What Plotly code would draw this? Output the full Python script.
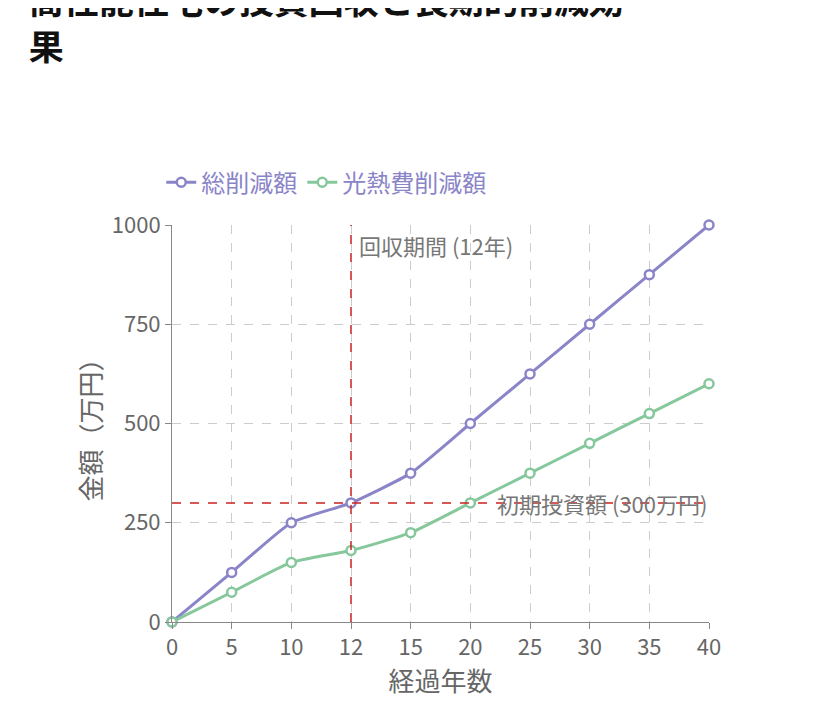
import plotly.graph_objects as go

years = ["0", "5", "10", "12", "15", "20", "25", "30", "35", "40"]
total_savings = [0, 125, 250, 300, 375, 500, 625, 750, 875, 1000]
energy_savings = [0, 75, 150, 180, 225, 300, 375, 450, 525, 600]
payback_year = "12"
initial_cost = 300

font = "Noto Sans CJK JP"
pidx = years.index(payback_year)
fig = go.Figure()
for name, vals, col in [("総削減額", total_savings, "#8a84c8"), ("光熱費削減額", energy_savings, "#86c79c")]:
    fig.add_trace(go.Scatter(x=years, y=vals, name=name, mode="lines+markers", cliponaxis=False,
                             line=dict(color=col, width=3, shape="spline", smoothing=0.5),
                             marker=dict(size=9, color="white", line=dict(color=col, width=2.5))))

fig.add_shape(type="line", xref="x", yref="paper", x0=pidx, x1=pidx, y0=0, y1=1,
              line=dict(color="#cc2222", width=1.5, dash="dash"))
fig.add_shape(type="line", xref="paper", yref="y", x0=0, x1=1, y0=initial_cost, y1=initial_cost,
              line=dict(color="#cc2222", width=1.5, dash="dash"))
fig.add_annotation(x=pidx, y=1000, xref="x", yref="y", text="回収期間 (12年)", showarrow=False,
                   xanchor="left", yanchor="top", xshift=6, yshift=-2, font=dict(size=22, color="#777"))
fig.add_annotation(x=1, y=initial_cost, xref="paper", yref="y", text="初期投資額 (300万円)", showarrow=False,
                   xanchor="right", yanchor="middle", font=dict(size=22, color="#777"))

fig.update_layout(
    width=833, height=712, plot_bgcolor="white", paper_bgcolor="white",
    font=dict(family=font, size=22, color="#666"),
    title=dict(text="高性能住宅の投資回収と長期的削減効<br>果", x=0.025, y=1, yref="container",
               xanchor="left", yanchor="top", pad=dict(t=6),
               font=dict(size=35, color="#111", family=font, weight="bold")),
    margin=dict(l=164, r=132, t=217, b=98),
    legend=dict(orientation="h", x=-0.02, y=1.05, xanchor="left", yanchor="bottom",
                font=dict(size=24, color="#8a84c8"), itemwidth=30),
    showlegend=True,
)
fig.update_xaxes(type="category", title=dict(text="経過年数", standoff=2), showgrid=True,
                 gridcolor="#ccc", griddash="dash", showline=True, linecolor="#888", ticks="outside",
                 ticklen=6, tickcolor="#888", range=[0, 9], tickfont=dict(size=22))
fig.update_yaxes(title=dict(text="金額（万円）", standoff=2), range=[0, 1000], tickvals=[0, 250, 500, 750, 1000],
                 showgrid=True, gridcolor="#ccc", griddash="dash", showline=True, linecolor="#888",
                 ticks="outside", ticklen=6, tickcolor="#888", zeroline=False, tickfont=dict(size=22))
fig.write_html("out.html")
